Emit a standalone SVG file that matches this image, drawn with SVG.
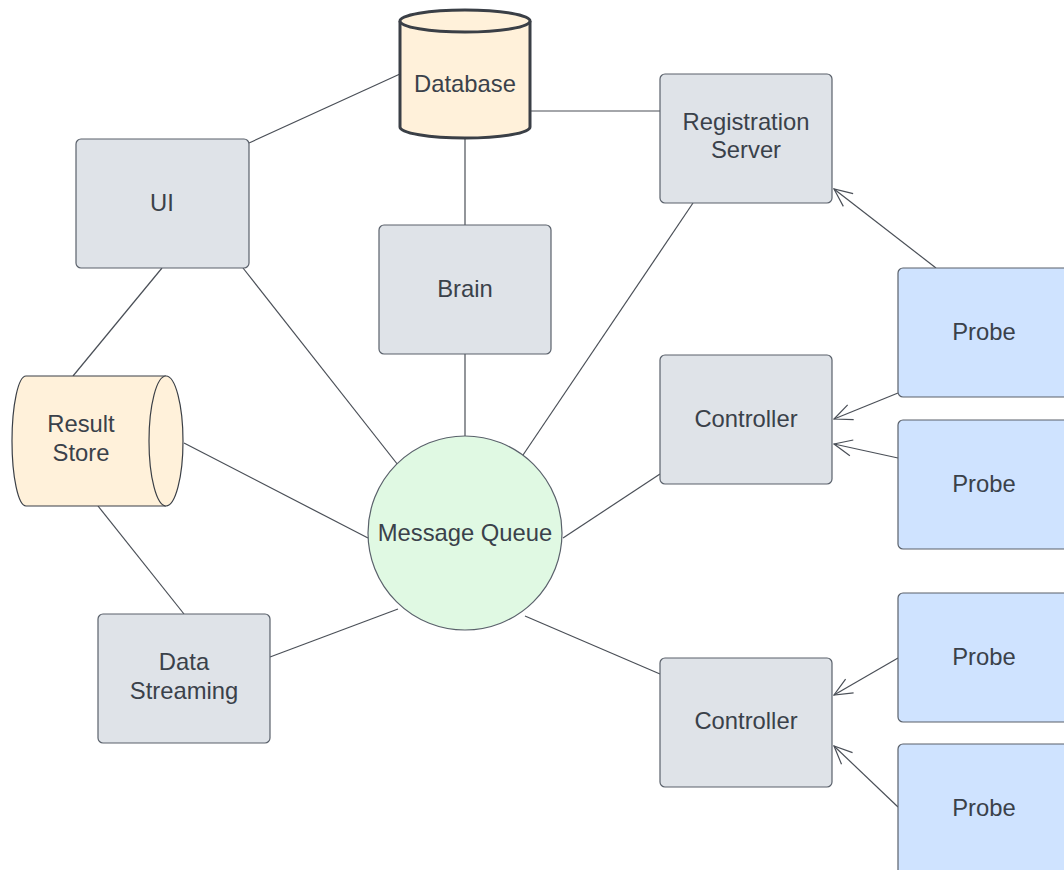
<svg xmlns="http://www.w3.org/2000/svg" width="1064" height="870" viewBox="0 0 1064 870">
  <defs>
    <style>
      .box { fill: #dfe3e8; stroke: #5a616b; stroke-width: 1.2; }
      .probe { fill: #cfe3ff; stroke: #5a616b; stroke-width: 1.2; }
      .store { fill: #fff1da; stroke: #3a3f46; }
      .queue { fill: #e0f9e3; stroke: #5a616b; stroke-width: 1.2; }
      .label { font-family: "Liberation Sans", Arial, sans-serif; font-size: 23.8px; fill: #3a414a; text-anchor: middle; dominant-baseline: central; }
      .link { stroke: #4a4f57; stroke-width: 1.2; fill: none; }
      .arrow { stroke: #4a4f57; stroke-width: 1.2; fill: none; marker-end: url(#open); }
    </style>
    <marker id="open" viewBox="0 0 20 20" refX="19" refY="10" markerWidth="20" markerHeight="20" markerUnits="userSpaceOnUse" orient="auto">
      <path d="M1,2 L19,10 L1,18" fill="none" stroke="#4a4f57" stroke-width="1.2"/>
    </marker>
  </defs>

  <rect width="1064" height="870" fill="#ffffff"/>

  <g id="connectors">
    <line class="link" x1="249" y1="143" x2="400" y2="74"/>
    <line class="link" x1="530" y1="111" x2="660" y2="111"/>
    <line class="link" x1="465" y1="138" x2="465" y2="225"/>
    <line class="link" x1="465" y1="354" x2="465" y2="436"/>
    <line class="link" x1="243" y1="268" x2="398" y2="465"/>
    <line class="link" x1="162" y1="268" x2="73" y2="376"/>
    <line class="link" x1="184" y1="443" x2="368" y2="538"/>
    <line class="link" x1="98" y1="506" x2="184" y2="614"/>
    <line class="link" x1="270" y1="657" x2="398" y2="609"/>
    <line class="link" x1="521" y1="458" x2="693" y2="203"/>
    <line class="link" x1="563" y1="538" x2="660" y2="474"/>
    <line class="link" x1="525" y1="616" x2="660" y2="674"/>
    <line class="arrow" x1="936" y1="268" x2="834" y2="189"/>
    <line class="arrow" x1="898" y1="393" x2="834" y2="419"/>
    <line class="arrow" x1="898" y1="458" x2="834" y2="444"/>
    <line class="arrow" x1="898" y1="658" x2="834" y2="695"/>
    <line class="arrow" x1="898" y1="807" x2="834" y2="746"/>
  </g>

  <g id="database">
    <path class="store" stroke-width="3" d="M400,21 L400,127 A65,11 0 0 0 530,127 L530,21 A65,11 0 0 0 400,21 Z"/>
    <path class="store" stroke-width="3" d="M400,21 A65,11 0 0 0 530,21"/>
    <text class="label" x="465" y="83">Database</text>
  </g>

  <g id="ui">
    <rect class="box" x="76" y="139" width="173" height="129" rx="5"/>
    <text class="label" x="162" y="202">UI</text>
  </g>

  <g id="brain">
    <rect class="box" x="379" y="225" width="172" height="129" rx="5"/>
    <text class="label" x="465" y="288">Brain</text>
  </g>

  <g id="registration-server">
    <rect class="box" x="660" y="74" width="172" height="129" rx="5"/>
    <text class="label" x="746" y="121">Registration</text>
    <text class="label" x="746" y="149">Server</text>
  </g>

  <g id="result-store">
    <path class="store" stroke-width="1.2" d="M166,376 L26,376 A14,65 0 0 0 26,506 L166,506 A17,65 0 0 0 166,376 Z"/>
    <path class="store" stroke-width="1.2" d="M166,376 A17,65 0 0 0 166,506"/>
    <text class="label" x="81" y="423">Result</text>
    <text class="label" x="81" y="452">Store</text>
  </g>

  <g id="message-queue">
    <circle class="queue" cx="465" cy="533" r="97"/>
    <text class="label" x="465" y="532">Message Queue</text>
  </g>

  <g id="data-streaming">
    <rect class="box" x="98" y="614" width="172" height="129" rx="5"/>
    <text class="label" x="184" y="661">Data</text>
    <text class="label" x="184" y="690">Streaming</text>
  </g>

  <g id="controller-1">
    <rect class="box" x="660" y="355" width="172" height="129" rx="5"/>
    <text class="label" x="746" y="418">Controller</text>
  </g>

  <g id="controller-2">
    <rect class="box" x="660" y="658" width="172" height="129" rx="5"/>
    <text class="label" x="746" y="720">Controller</text>
  </g>

  <g id="probe-1">
    <rect class="probe" x="898" y="268" width="180" height="129" rx="5"/>
    <text class="label" x="984" y="331">Probe</text>
  </g>

  <g id="probe-2">
    <rect class="probe" x="898" y="420" width="180" height="129" rx="5"/>
    <text class="label" x="984" y="483">Probe</text>
  </g>

  <g id="probe-3">
    <rect class="probe" x="898" y="593" width="180" height="129" rx="5"/>
    <text class="label" x="984" y="656">Probe</text>
  </g>

  <g id="probe-4">
    <rect class="probe" x="898" y="744" width="180" height="140" rx="5"/>
    <text class="label" x="984" y="807">Probe</text>
  </g>
</svg>
